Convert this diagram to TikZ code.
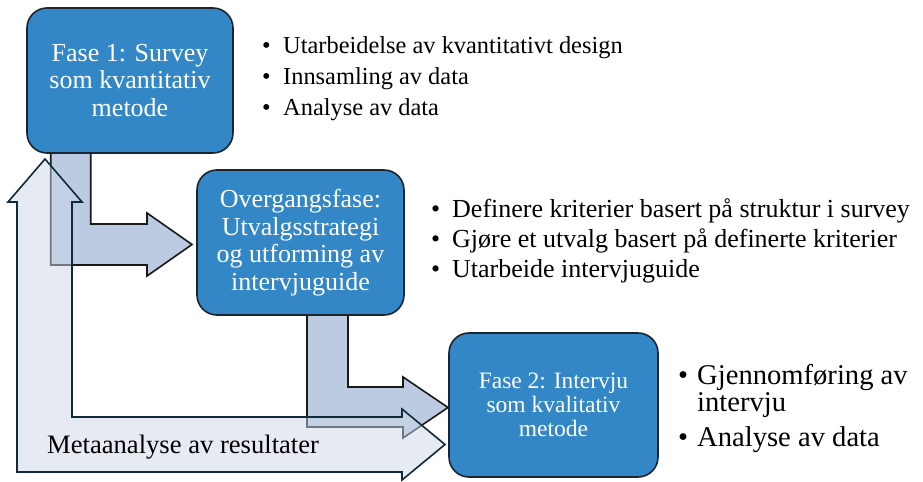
\documentclass[tikz,border=0pt]{standalone}
\usepackage{fontspec}
\setmainfont{Liberation Serif}
\definecolor{boxblue}{HTML}{3487C7}
\definecolor{boxedge}{HTML}{1A2530}
\definecolor{flowblue}{HTML}{BCCBE2}
\definecolor{metafill}{HTML}{CDD5E6}
\definecolor{metaedge}{HTML}{0F2A3A}
\tikzset{
  phase/.style={draw=boxedge, line width=1.6bp, fill=boxblue, rounded corners=20bp,
    text=white, align=center, inner sep=0pt},
  flow/.style={draw=black!90, line width=1.6bp, fill=flowblue, line join=miter},
  meta/.style={draw=metaedge, line width=1.6bp, fill=metafill, fill opacity=0.5,
    draw opacity=1, line join=miter},
  bul/.style={anchor=base west, inner sep=0pt, text=black},
  fA/.style={font=\fontsize{26bp}{27.5bp}\selectfont},
  fE/.style={font=\fontsize{24.4bp}{26bp}\selectfont},
  fB/.style={font=\fontsize{26bp}{27bp}\selectfont},
  fC/.style={font=\fontsize{28.6bp}{30bp}\selectfont},
  fD/.style={font=\fontsize{23.5bp}{24bp}\selectfont},
  fM/.style={font=\fontsize{26.6bp}{28bp}\selectfont},
}
\begin{document}
\begin{tikzpicture}[x=1bp,y=-1bp]
\useasboundingbox (0,0) rectangle (923,482);
% flow arrows
\draw[flow] (50.7,153) -- (90.7,153) -- (90.7,224) -- (147,224) -- (147,213)
  -- (192,244.5) -- (147,276) -- (147,265) -- (50.7,265) -- cycle;
\draw[flow] (307,315) -- (348,315) -- (348,387) -- (403,387) -- (403,377)
  -- (448,407.5) -- (403,438) -- (403,427) -- (307,427) -- cycle;
% phase boxes
\node[phase, fA, minimum width=206bp, minimum height=145bp] (box1) at (130,80.5)
  {Fase 1: Survey\\som kvantitativ\\metode};
\node[phase, fA, minimum width=207bp, minimum height=145bp] (box2) at (300.5,242.5)
  {Overgangsfase:\\Utvalgsstrategi\\og utforming av\\intervjuguide};
\node[phase, fD, minimum width=209bp, minimum height=144bp] (box3) at (553.5,405)
  {Fase 2: Intervju\\som kvalitativ\\metode};
% meta arrow
\draw[meta] (45,159) -- (82,202) -- (72,202) -- (72,417) -- (402,417) -- (402,409)
  -- (445,444.5) -- (402,480) -- (402,472) -- (17,472) -- (17,202) -- (8,202) -- cycle;
\node[anchor=base west, inner sep=0pt, fM] (metalabel) at (47,453) {Metaanalyse av resultater};
% bullets phase 1
\node[bul, fE] (b1a) at (262,54) {•};
\node[bul, fE] (t1a) at (283,54) {Utarbeidelse av kvantitativt design};
\node[bul, fE] (b1b) at (262,85) {•};
\node[bul, fE] (t1b) at (283,85) {Innsamling av data};
\node[bul, fE] (b1c) at (262,116) {•};
\node[bul, fE] (t1c) at (283,116) {Analyse av data};
% bullets transition
\node[bul, fB] (b2a) at (431,218) {•};
\node[bul, fB] (t2a) at (452,218) {Definere kriterier basert på struktur i survey};
\node[bul, fB] (b2b) at (431,248) {•};
\node[bul, fB] (t2b) at (452,248) {Gjøre et utvalg basert på definerte kriterier};
\node[bul, fB] (b2c) at (431,278) {•};
\node[bul, fB] (t2c) at (452,278) {Utarbeide intervjuguide};
% bullets phase 2
\node[bul, fC] (b3a) at (678,384) {•};
\node[bul, fC] (t3a) at (697,384) {Gjennomføring av};
\node[bul, fC] (t3b) at (697,411) {intervju};
\node[bul, fC] (b3c) at (678,446) {•};
\node[bul, fC] (t3c) at (697,446) {Analyse av data};
\end{tikzpicture}
\end{document}
